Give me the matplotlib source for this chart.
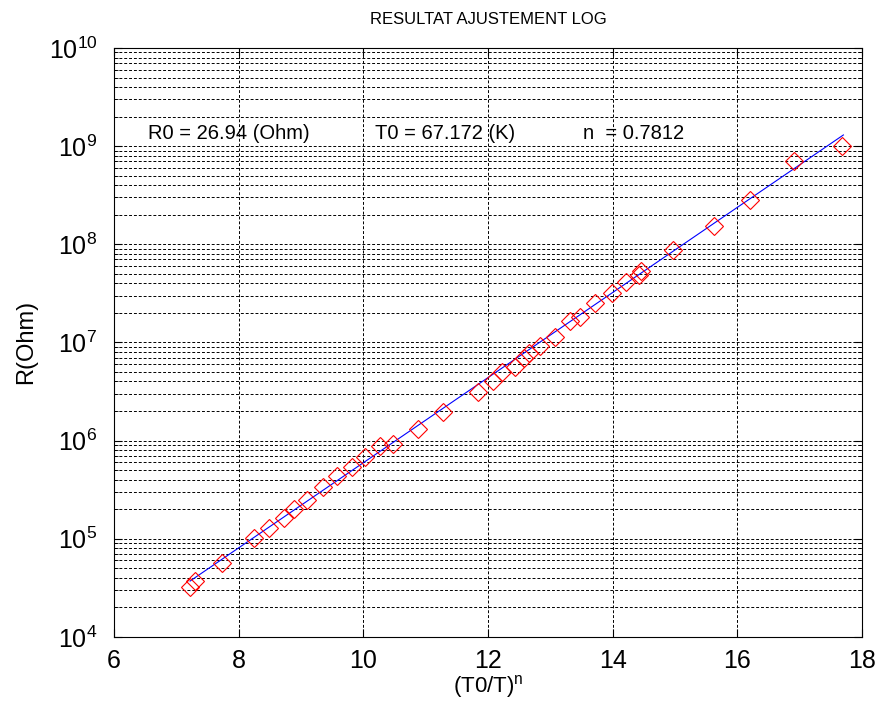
from matplotlib import pyplot as plt
from matplotlib.ticker import LogLocator, FixedLocator, FuncFormatter
import numpy as np

# measured points, x = (T0/T)^n, R in Ohm
x_data = [7.22, 7.30, 7.73, 8.24, 8.48, 8.72, 8.88, 9.09, 9.36, 9.57,
          9.81, 10.03, 10.27, 10.48, 10.88, 11.28, 11.84, 12.08, 12.22, 12.43,
          12.58, 12.65, 12.83, 13.07, 13.32, 13.48, 13.72, 13.99, 14.22, 14.42,
          14.46, 14.97, 15.62, 16.20, 16.90, 17.67]
r_data = [3.2e4, 3.7e4, 5.6e4, 1.02e5, 1.27e5, 1.62e5, 2.0e5, 2.46e5, 3.4e5, 4.4e5,
          5.4e5, 6.8e5, 8.9e5, 9.3e5, 1.32e6, 1.94e6, 3.1e6, 4.0e6, 5.0e6, 5.6e6,
          7.0e6, 7.8e6, 9.3e6, 1.13e7, 1.65e7, 1.8e7, 2.5e7, 3.2e7, 4.1e7, 4.9e7,
          5.3e7, 8.8e7, 1.55e8, 2.8e8, 7.1e8, 1.0e9]

# fitted line end points
x_fit = [7.22, 17.70]
r_fit = [3.7e4, 1.3e9]

x_ticks = [6, 8, 10, 12, 14, 16, 18]
y_ticks = [1e4, 1e5, 1e6, 1e7, 1e8, 1e9, 1e10]
fit_labels = ['R0 = 26.94 (Ohm)', 'T0 = 67.172 (K)', 'n  = 0.7812']
fit_label_x = [6.55, 10.19, 13.52]


def main():
    plt.rcParams['font.family'] = ['Liberation Sans', 'DejaVu Sans']
    plt.rcParams['mathtext.fontset'] = 'custom'
    plt.rcParams['mathtext.rm'] = 'Liberation Sans'
    plt.rcParams['mathtext.it'] = 'Liberation Sans'

    fig = plt.figure(figsize=(8.77, 7.06), dpi=100)
    ax = fig.add_axes([0.130, 0.098, 0.853, 0.834])

    ax.plot(x_fit, r_fit, color='blue', lw=0.8, zorder=3)
    ax.plot(x_data, r_data, linestyle='none', marker='D', markersize=9,
            markerfacecolor='none', markeredgecolor='red', markeredgewidth=0.8,
            zorder=4)

    ax.set_yscale('log')
    ax.set_xlim(6, 18)
    ax.set_ylim(1e4, 1e10)
    ax.xaxis.set_major_locator(FixedLocator(x_ticks))
    ax.yaxis.set_major_locator(FixedLocator(y_ticks))
    ax.yaxis.set_minor_locator(LogLocator(base=10, subs=np.arange(2, 10), numticks=20))
    ax.yaxis.set_major_formatter(
        FuncFormatter(lambda v, p: r'$\mathregular{10^{%d}}$' % round(np.log10(v))))

    grid_style = dict(color='black', linestyle=(0, (3, 2)), linewidth=0.7)
    ax.grid(True, which='major', axis='both', **grid_style)
    ax.grid(True, which='minor', axis='y', **grid_style)

    ax.tick_params(which='both', direction='in', top=True, right=True)
    ax.tick_params(which='major', length=6, labelsize=18)
    ax.tick_params(axis='x', which='major', pad=9)
    ax.tick_params(axis='y', which='major', pad=12)
    ax.tick_params(which='minor', length=3)
    for s in ax.spines.values():
        s.set_linewidth(0.8)

    for txt, xt in zip(fit_labels, fit_label_x):
        ax.text(xt, 1.35e9, txt, fontsize=14.5, va='center', ha='left')

    ax.set_xlabel(r'(T0/T)$^{\mathregular{n}}$', fontsize=16, labelpad=0)
    ax.set_ylabel('R(Ohm)', fontsize=17, labelpad=8)
    ax.set_title('RESULTAT AJUSTEMENT LOG', fontsize=12, pad=17)

    fig.savefig('out.png', dpi=100)


if __name__ == "__main__":
    main()
